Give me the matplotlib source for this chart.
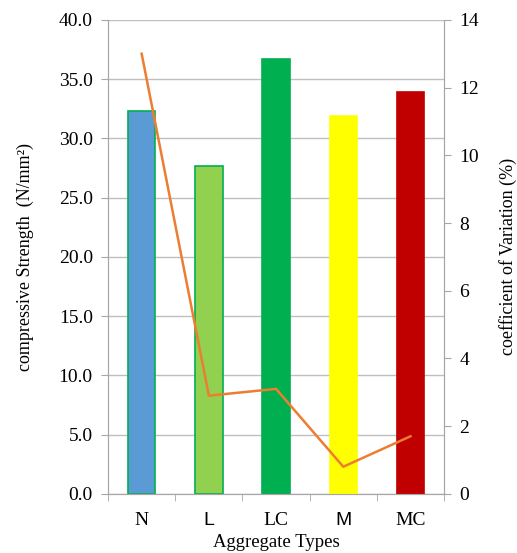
import matplotlib
matplotlib.use("Agg")
import matplotlib.pyplot as plt
import numpy as np

categories = ["N", "L", "LC", "M", "MC"]
strength = [32.3, 27.7, 36.7, 31.9, 33.9]
cov = [13.0, 2.9, 3.1, 0.8, 1.7]
bar_colors = ["#5B9BD5", "#92D050", "#00B050", "#FFFF00", "#C00000"]
edge_colors = ["#00B050", "#00B050", "#00B050", "#FFFF00", "#C00000"]

plt.rcParams["font.family"] = ["Liberation Serif", "DejaVu Serif"]

fig = plt.figure(figsize=(5.17, 5.53), dpi=100)
ax = fig.add_axes([0.209, 0.107, 0.650, 0.857])
x = np.arange(len(categories))
ax.bar(x, strength, width=0.41, color=bar_colors, edgecolor=edge_colors,
       linewidth=1.2, zorder=3)
ax.set_xlim(-0.5, len(categories) - 0.5)
ax.set_ylim(0, 40)
ax.set_yticks(np.arange(0, 41, 5))
ax.set_yticklabels(["%.1f" % v for v in np.arange(0, 41, 5)])
ax.yaxis.grid(True, color="#BFBFBF", linewidth=1.0, zorder=0)
ax.set_axisbelow(True)

ax.set_xticks(x)
ax.set_xticklabels(categories)
for lbl in ax.get_xticklabels():
    if lbl.get_text() in ("L", "M"):
        lbl.set_family("Liberation Sans")
ax.set_xticks(np.arange(-0.5, len(categories), 1.0), minor=True)
ax.tick_params(axis="x", which="major", length=0, pad=13, labelsize=14)
ax.tick_params(axis="x", which="minor", length=5, color="#A6A6A6")
ax.tick_params(axis="y", length=5, color="#A6A6A6", labelsize=14, pad=6)

ax.spines["top"].set_visible(False)
for side in ["left", "bottom", "right"]:
    ax.spines[side].set_color("#A6A6A6")

ax.set_xlabel("Aggregate Types", fontsize=13.5, labelpad=4)
ax.set_ylabel("compressive Strength  (N/mm\u00b2)", fontsize=13, labelpad=18)

ax2 = ax.twinx()
ax2.plot(x, cov, color="#ED7D31", linewidth=1.8, zorder=4)
ax2.set_ylim(0, 14)
ax2.set_yticks(np.arange(0, 15, 2))
ax2.tick_params(axis="y", length=5, color="#A6A6A6", labelsize=14, pad=6)
ax2.spines["top"].set_visible(False)
for side in ["left", "bottom", "right"]:
    ax2.spines[side].set_color("#A6A6A6")
ax2.set_ylabel("coefficient of Variation (%)", fontsize=13, labelpad=14)

fig.savefig("out.png", dpi=100)
